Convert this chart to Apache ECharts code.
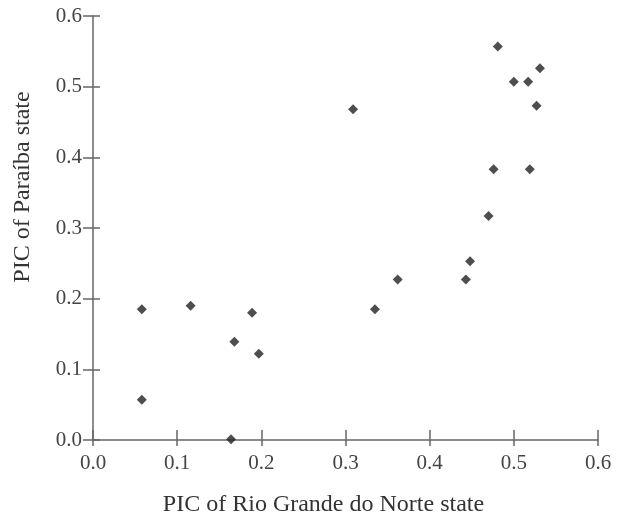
<!DOCTYPE html>
<html>
<head>
<meta charset="utf-8">
<script src="https://cdn.jsdelivr.net/npm/echarts@6/dist/echarts.min.js"></script>
<style>html,body{margin:0;padding:0;background:#fff;}#c{width:624px;height:516px;}</style>
</head>
<body>
<div id="c"></div>
<script>
// Data
var xValues = [0.481, 0.531, 0.500, 0.517, 0.527, 0.309, 0.476, 0.519, 0.470, 0.448,
               0.362, 0.443, 0.335, 0.058, 0.116, 0.189, 0.168, 0.197, 0.058, 0.164];
var yValues = [0.557, 0.526, 0.507, 0.507, 0.473, 0.468, 0.383, 0.383, 0.317, 0.253,
               0.227, 0.227, 0.185, 0.185, 0.190, 0.180, 0.139, 0.122, 0.057, 0.001];
var xTitle = 'PIC of Rio Grande do Norte state';
var yTitle = 'PIC of Paraíba state';
var axisMin = 0, axisMax = 0.6, axisStep = 0.1;

var points = xValues.map(function (x, i) { return [x, yValues[i]]; });
var font = 'Liberation Serif';
var lineColor = '#666';
var gridRect = { left: 93, right: 26, top: 16, bottom: 76, containLabel: false, outerBoundsMode: 'none' };
function fmt(v) { return v.toFixed(1); }

var chart = echarts.init(document.getElementById('c'), null, { renderer: 'canvas' });
chart.setOption({
  animation: false,
  backgroundColor: '#fff',
  grid: [
    Object.assign({}, gridRect),
    Object.assign({}, gridRect)
  ],
  xAxis: [{
    type: 'value', gridIndex: 0, min: axisMin, max: axisMax, interval: axisStep,
    splitLine: { show: false },
    axisLine: { show: true, lineStyle: { color: lineColor, width: 1.5 } },
    axisTick: { show: true, inside: true, length: 10, lineStyle: { color: lineColor, width: 1.5 } },
    axisLabel: { color: '#444', fontFamily: font, fontSize: 21, margin: 13, formatter: fmt },
    name: xTitle, nameLocation: 'middle', nameGap: 53,
    nameTextStyle: { color: '#333', fontFamily: font, fontSize: 24, padding: [0, 44, 0, 0] }
  }, {
    type: 'value', gridIndex: 1, min: axisMin, max: axisMax, interval: axisStep,
    splitLine: { show: false }, axisLine: { show: false },
    axisTick: { show: true, inside: false, length: 6, lineStyle: { color: lineColor, width: 1.5 } },
    axisLabel: { show: false }
  }],
  yAxis: [{
    type: 'value', gridIndex: 0, min: axisMin, max: axisMax, interval: axisStep,
    splitLine: { show: false },
    axisLine: { show: true, lineStyle: { color: lineColor, width: 1.5 } },
    axisTick: { show: true, inside: false, length: 10, lineStyle: { color: lineColor, width: 1.5 } },
    axisLabel: { color: '#444', fontFamily: font, fontSize: 21, margin: 11, formatter: fmt },
    name: yTitle, nameLocation: 'middle', nameGap: 58, nameRotate: 90,
    nameTextStyle: { color: '#333', fontFamily: font, fontSize: 24, padding: [0, 0, 0, 82] }
  }, {
    type: 'value', gridIndex: 1, min: axisMin, max: axisMax, interval: axisStep,
    splitLine: { show: false }, axisLine: { show: false },
    axisTick: { show: true, inside: true, length: 7, lineStyle: { color: lineColor, width: 1.5 } },
    axisLabel: { show: false }
  }],
  series: [{
    type: 'scatter', xAxisIndex: 0, yAxisIndex: 0,
    symbol: 'diamond', symbolSize: 10,
    itemStyle: { color: '#222' },
    data: points
  }]
});
</script>
</body>
</html>
